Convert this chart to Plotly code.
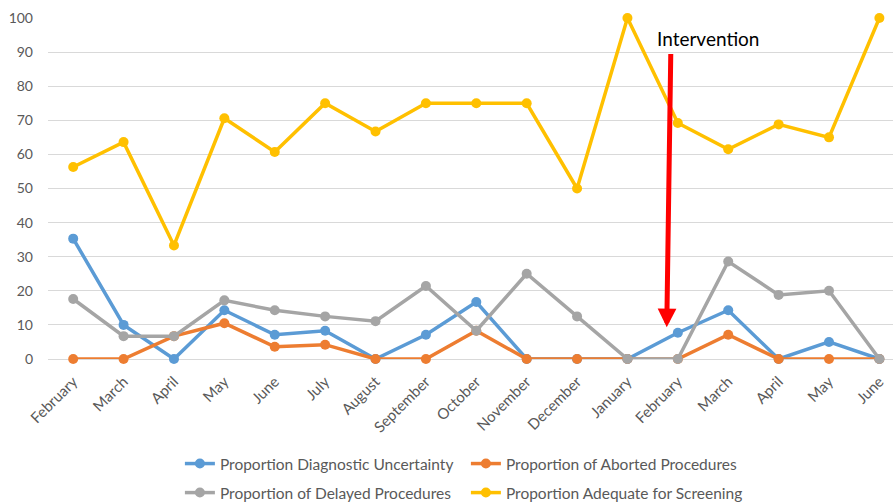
import plotly.graph_objects as go

months = ["February", "March", "April", "May", "June", "July", "August", "September",
          "October", "November", "December", "January", "February", "March", "April", "May", "June"]
x_idx = list(range(len(months)))

diag_uncertainty = [35.3, 10.0, 0.0, 14.3, 7.1, 8.3, 0.0, 7.1, 16.7, 0.0, 0.0, 0.0, 7.7, 14.3, 0.0, 5.0, 0.0]
aborted = [0.0, 0.0, 6.7, 10.5, 3.6, 4.2, 0.0, 0.0, 8.3, 0.0, 0.0, 0.0, 0.0, 7.1, 0.0, 0.0, 0.0]
delayed = [17.6, 6.7, 6.7, 17.2, 14.3, 12.5, 11.1, 21.4, 8.3, 25.0, 12.5, 0.0, 0.0, 28.6, 18.8, 20.0, 0.0]
adequate = [56.3, 63.6, 33.3, 70.6, 60.7, 75.0, 66.7, 75.0, 75.0, 75.0, 50.0, 100.0, 69.2, 61.5, 68.8, 65.0, 100.0]

series = [
    ("Proportion Diagnostic Uncertainty", diag_uncertainty, "#5B9BD5", "legend"),
    ("Proportion of Aborted Procedures", aborted, "#ED7D31", "legend"),
    ("Proportion of Delayed Procedures", delayed, "#A5A5A5", "legend2"),
    ("Proportion Adequate for Screening", adequate, "#FFC000", "legend2"),
]

FONT = "Lato"
fig = go.Figure()
for name, vals, color, leg in series:
    fig.add_trace(go.Scatter(
        x=x_idx, y=vals, name=name, mode="lines+markers",
        line=dict(color=color, width=3.5),
        marker=dict(color=color, size=10),
        cliponaxis=False, legend=leg,
    ))

fig.add_annotation(
    x=11.78, y=9.3, ax=11.86, ay=89.9, xref="x", yref="y", axref="x", ayref="y",
    showarrow=True, arrowhead=2, arrowsize=0.75, arrowwidth=5, arrowcolor="#FF0000",
    standoff=0, text="",
)
fig.add_annotation(
    x=12.59, y=94.0, xref="x", yref="y", text="Intervention", showarrow=False,
    font=dict(family=FONT, size=19, color="#000000"),
)

leg_common = dict(orientation="h", xref="container", yref="container",
                  x=0.201, xanchor="left", yanchor="middle",
                  entrywidth=241, font=dict(size=15.5, color="#595959"),
                  bgcolor="rgba(0,0,0,0)")

fig.update_layout(
    width=895, height=504,
    margin=dict(l=48, r=2, t=18, b=145, autoexpand=False),
    paper_bgcolor="white", plot_bgcolor="white",
    font=dict(family=FONT, color="#595959"),
    showlegend=True,
    legend=dict(leg_common, y=0.0794),
    legend2=dict(leg_common, y=0.0218),
    xaxis=dict(
        range=[-0.5, 16.27], tickmode="array", tickvals=x_idx, ticktext=months,
        tickangle=-45, showgrid=False, zeroline=False, showline=False,
        tickfont=dict(size=15, color="#595959"), ticks="", automargin=False,
        ticklabelstandoff=10,
    ),
    yaxis=dict(
        range=[0, 100], tickmode="array", tickvals=list(range(0, 101, 10)),
        showgrid=True, gridcolor="#D9D9D9", gridwidth=1, zeroline=True,
        zerolinecolor="#D9D9D9", zerolinewidth=1, automargin=False,
        tickfont=dict(size=14, color="#595959"), ticklabelstandoff=14,
    ),
)

fig.write_html("out.html")
